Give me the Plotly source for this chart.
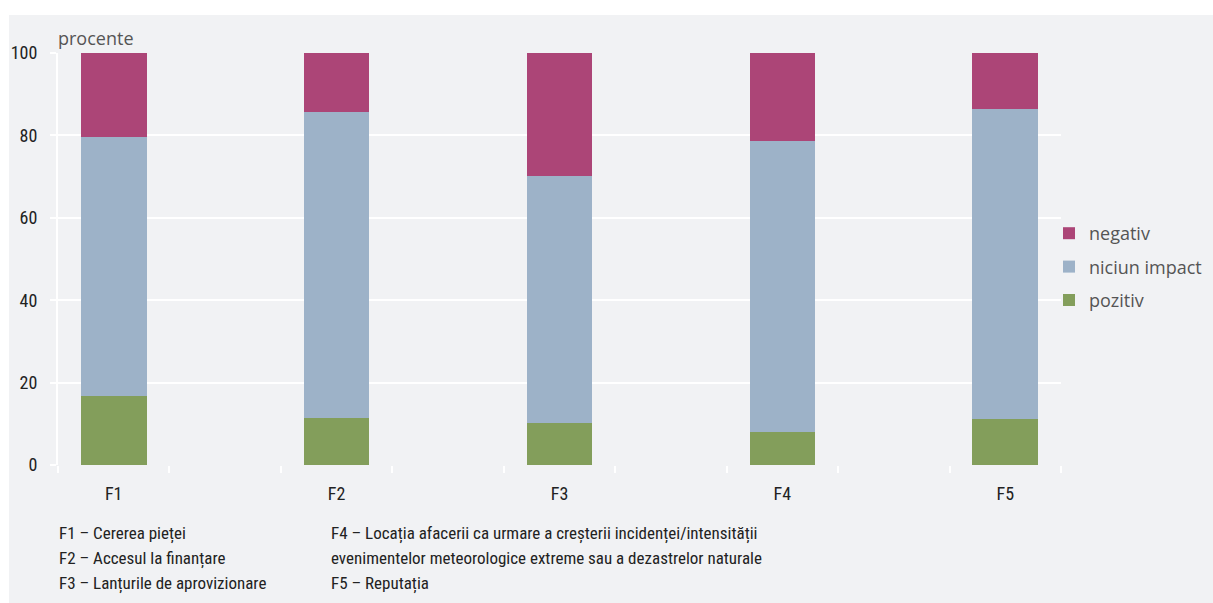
import plotly.graph_objects as go

categories = ["F1", "F2", "F3", "F4", "F5"]
pozitiv = [16.7, 11.3, 10.3, 8.1, 11.1]
niciun_impact = [62.9, 74.4, 59.8, 70.6, 75.4]
negativ = [20.4, 14.3, 29.9, 21.3, 13.5]
series_names = ["pozitiv", "niciun impact", "negativ"]
colors = ["#839E5B", "#9DB2C8", "#AC4577"]
legend_ranks = [3, 2, 1]
y_ticks = [0, 20, 40, 60, 80, 100]
notes_left = ["F1 – Cererea pieței", "F2 – Accesul la finanțare", "F3 – Lanțurile de aprovizionare"]
notes_right = ["F4 – Locația afacerii ca urmare a creșterii incidenței/intensității",
               "evenimentelor meteorologice extreme sau a dezastrelor naturale",
               "F5 – Reputația"]

W, H = 1213, 603
L, R, T, B = 58, 1061, 53, 465
pw, ph = R - L, B - T

def px(x):
    return (x - L) / pw

def py(y):
    return (B - y) / ph

# each category occupies every second slot on a 9-slot axis (the last bar sits half a slot from the end)
xpos = [2 * i + 0.5 for i in range(len(categories))]

cond = "Roboto Condensed, DejaVu Sans Condensed, sans-serif"
sans = "Open Sans, Noto Sans, sans-serif"

fig = go.Figure()
for name, vals, col, rk in zip(series_names, [pozitiv, niciun_impact, negativ], colors, legend_ranks):
    fig.add_trace(go.Bar(x=xpos, y=vals, name=name, marker=dict(color=col, line=dict(width=0)),
                         width=0.59, legendgroup=name, legendrank=rk, hoverinfo="skip"))

fig.update_layout(
    barmode="stack",
    width=W, height=H, autosize=False,
    margin=dict(l=L, r=W - R, t=T, b=H - B, pad=0, autoexpand=False),
    paper_bgcolor="white",
    plot_bgcolor="rgba(0,0,0,0)",
    showlegend=True,
    legend=dict(x=px(1049), y=py(267), xanchor="left", yanchor="middle",
                traceorder="grouped", font=dict(family=sans, size=18, color="#555555"),
                bgcolor="rgba(0,0,0,0)", tracegroupgap=7, itemwidth=30, borderwidth=0),
    xaxis=dict(range=[0, 9], tickmode="array", tickvals=xpos, ticktext=categories,
               ticks="", showgrid=False, zeroline=False, showline=False,
               tickfont=dict(family=cond, size=18, color="#222222"),
               ticklabelstandoff=16,
               minor=dict(tickmode="array", tickvals=list(range(10)), ticks="outside",
                          ticklen=7, tickwidth=2, tickcolor="white", showgrid=False)),
    yaxis=dict(range=[0, 100], tickmode="array", tickvals=y_ticks, ticks="outside",
               ticklen=6, tickwidth=2, tickcolor="white", showgrid=True, gridcolor="white",
               gridwidth=2, zeroline=False, showline=True, linecolor="white", linewidth=2,
               tickfont=dict(family=cond, size=18, color="#222222"), ticklabelstandoff=9),
    shapes=[dict(type="rect", xref="paper", yref="paper", x0=px(9), x1=px(1213),
                 y0=py(603), y1=py(15), fillcolor="#F1F2F4", line=dict(width=0), layer="below")],
)

annotations = [dict(text="procente", xref="paper", yref="paper", x=px(56), y=py(38),
                    xanchor="left", yanchor="middle", showarrow=False,
                    font=dict(family=sans, size=18, color="#555555"))]
for i, t in enumerate(notes_left):
    annotations.append(dict(text=t, xref="paper", yref="paper", x=px(57), y=py(533 + 25 * i),
                            xanchor="left", yanchor="middle", showarrow=False,
                            font=dict(family=cond, size=17, color="#222222")))
for i, t in enumerate(notes_right):
    annotations.append(dict(text=t, xref="paper", yref="paper", x=px(329), y=py(533 + 25 * i),
                            xanchor="left", yanchor="middle", showarrow=False,
                            font=dict(family=cond, size=17, color="#222222")))
fig.update_layout(annotations=annotations)

fig.write_html("out.html", config={"displayModeBar": False},
               post_script="document.body.style.margin='0';document.body.style.overflow='hidden';")
